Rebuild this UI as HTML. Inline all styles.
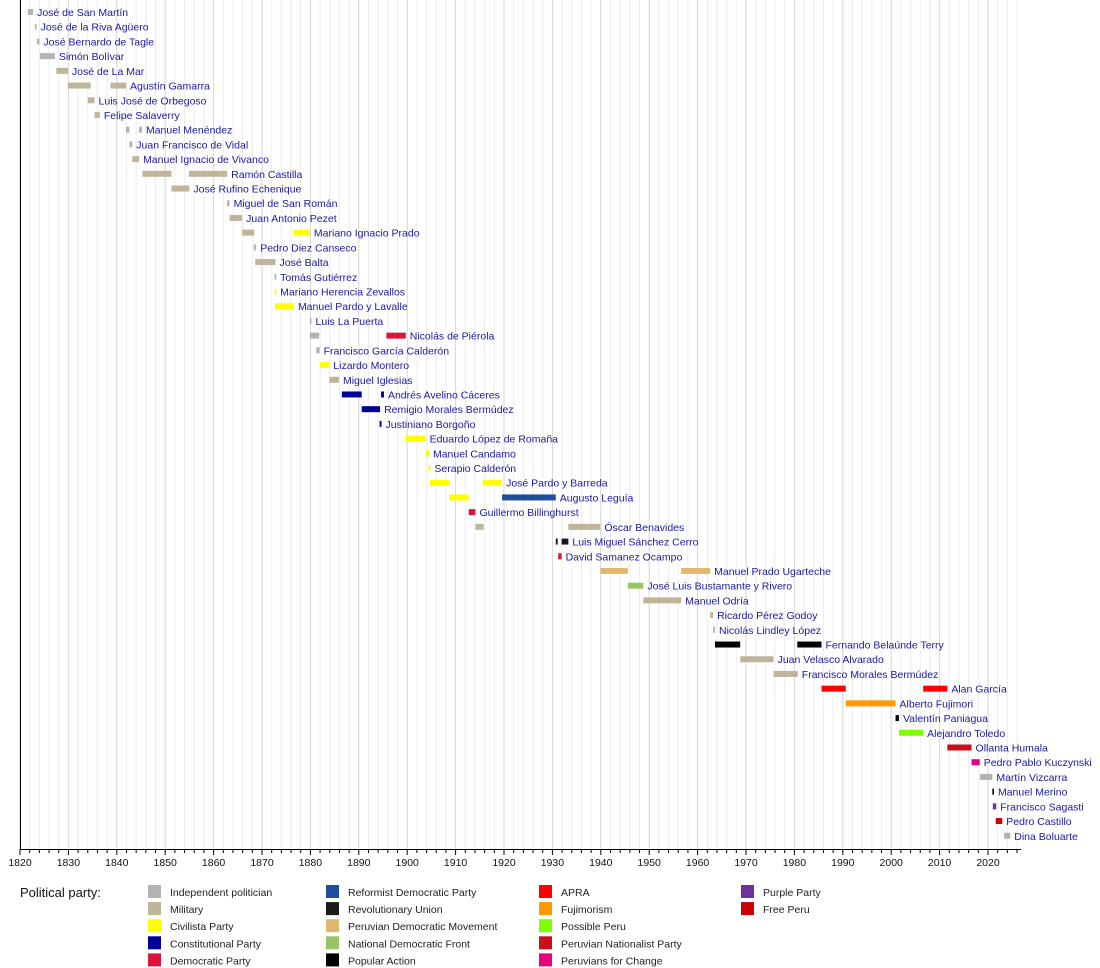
<!DOCTYPE html>
<html><head><meta charset="utf-8"><style>
body{margin:0;background:#fff;width:1100px;height:968px;overflow:hidden}
svg{display:block;font-family:"Liberation Sans",sans-serif}
</style></head><body>
<svg id="s" width="1100" height="968" xmlns="http://www.w3.org/2000/svg"></svg>
<script>
const C={ind:"#b3b3b3",mil:"#c0b49a",civ:"#ffff00",con:"#000099",dem:"#dc143c",ref:"#1f4e9c",rev:"#1a1a1a",pdm:"#e0b870",ndf:"#99c566",pa:"#000000",apra:"#ff0000",fuj:"#ff9900",pp:"#80ff00",pnp:"#cc0d1a",ppc:"#e5007e",pur:"#7030a0",fp:"#cc0000"};
const X=y=>20+(y-1820)*4.84;
const D=[
["José de San Martín",[[1821.6,1822.7,"ind"]]],
["José de la Riva Agüero",[[1823.1,1823.4,"ind"]]],
["José Bernardo de Tagle",[[1823.5,1824.0,"ind"]]],
["Simón Bolívar",[[1824.1,1827.2,"ind"]]],
["José de La Mar",[[1827.5,1829.9,"mil"]]],
["Agustín Gamarra",[[1829.9,1834.6,"mil"],[1838.7,1841.9,"mil"]]],
["Luis José de Orbegoso",[[1834.0,1835.4,"mil"]]],
["Felipe Salaverry",[[1835.4,1836.5,"mil"]]],
["Manuel Menéndez",[[1841.9,1842.6,"ind"],[1844.6,1845.2,"ind"]]],
["Juan Francisco de Vidal",[[1842.6,1843.2,"ind"]]],
["Manuel Ignacio de Vivanco",[[1843.2,1844.6,"mil"]]],
["Ramón Castilla",[[1845.3,1851.3,"mil"],[1854.9,1862.8,"mil"]]],
["José Rufino Echenique",[[1851.3,1855.0,"mil"]]],
["Miguel de San Román",[[1862.8,1863.3,"ind"]]],
["Juan Antonio Pezet",[[1863.3,1865.9,"mil"]]],
["Mariano Ignacio Prado",[[1865.9,1868.4,"mil"],[1876.6,1879.9,"civ"]]],
["Pedro Diez Canseco",[[1868.3,1868.8,"ind"]]],
["José Balta",[[1868.6,1872.8,"mil"]]],
["Tomás Gutiérrez",[[1872.6,1872.8,"ind"]]],
["Mariano Herencia Zevallos",[[1872.6,1872.8,"civ"]]],
["Manuel Pardo y Lavalle",[[1872.7,1876.6,"civ"]]],
["Luis La Puerta",[[1879.9,1880.1,"ind"]]],
["Nicolás de Piérola",[[1879.9,1881.8,"ind"],[1895.7,1899.7,"dem"]]],
["Francisco García Calderón",[[1881.2,1881.9,"ind"]]],
["Lizardo Montero",[[1881.9,1883.9,"civ"]]],
["Miguel Iglesias",[[1883.9,1885.9,"mil"]]],
["Andrés Avelino Cáceres",[[1886.5,1890.6,"con"],[1894.6,1895.2,"con"]]],
["Remigio Morales Bermúdez",[[1890.6,1894.4,"con"]]],
["Justiniano Borgoño",[[1894.3,1894.7,"con"]]],
["Eduardo López de Romaña",[[1899.7,1903.8,"civ"]]],
["Manuel Candamo",[[1903.8,1904.5,"civ"]]],
["Serapio Calderón",[[1904.4,1904.8,"civ"]]],
["José Pardo y Barreda",[[1904.7,1908.7,"civ"],[1915.6,1919.6,"civ"]]],
["Augusto Leguía",[[1908.7,1912.7,"civ"],[1919.6,1930.7,"ref"]]],
["Guillermo Billinghurst",[[1912.7,1914.1,"dem"]]],
["Óscar Benavides",[[1914.1,1915.8,"mil"],[1933.3,1939.9,"mil"]]],
["Luis Miguel Sánchez Cerro",[[1930.7,1931.1,"rev"],[1931.9,1933.3,"rev"]]],
["David Samanez Ocampo",[[1931.2,1931.9,"dem"]]],
["Manuel Prado Ugarteche",[[1939.9,1945.6,"pdm"],[1956.6,1962.6,"pdm"]]],
["José Luis Bustamante y Rivero",[[1945.6,1948.8,"ndf"]]],
["Manuel Odría",[[1948.8,1956.6,"mil"]]],
["Ricardo Pérez Godoy",[[1962.6,1963.2,"mil"]]],
["Nicolás Lindley López",[[1963.2,1963.6,"mil"]]],
["Fernando Belaúnde Terry",[[1963.6,1968.8,"pa"],[1980.6,1985.6,"pa"]]],
["Juan Velasco Alvarado",[[1968.8,1975.7,"mil"]]],
["Francisco Morales Bermúdez",[[1975.7,1980.7,"mil"]]],
["Alan García",[[1985.6,1990.6,"apra"],[2006.6,2011.6,"apra"]]],
["Alberto Fujimori",[[1990.6,2000.9,"fuj"]]],
["Valentín Paniagua",[[2000.9,2001.6,"pa"]]],
["Alejandro Toledo",[[2001.6,2006.6,"pp"]]],
["Ollanta Humala",[[2011.6,2016.6,"pnp"]]],
["Pedro Pablo Kuczynski",[[2016.6,2018.3,"ppc"]]],
["Martín Vizcarra",[[2018.3,2020.9,"ind"]]],
["Manuel Merino",[[2020.9,2021.0,"pa"]]],
["Francisco Sagasti",[[2021.0,2021.7,"pur"]]],
["Pedro Castillo",[[2021.6,2022.95,"fp"]]],
["Dina Boluarte",[[2023.3,2024.6,"ind"]]]];
let h="";
for(let y=1820;y<=2026;y+=2){const x=X(y);h+=`<line x1="${x}" y1="0" x2="${x}" y2="849" stroke="${y%10==0?'#d6d6d6':'#ececec'}" stroke-width="1"/>`;}
D.forEach((d,i)=>{const cy=12+i*14.71;let e=0;d[1].forEach(b=>{let x1=X(b[0]),w=Math.max(1.6,X(b[1])-x1);h+=`<rect x="${x1}" y="${cy-3}" width="${w}" height="6" fill="${C[b[2]]}"/>`;e=x1+w;});h+=`<text x="${e+4}" y="${cy+4}" font-size="10.5" fill="#1a1aa0">${d[0]}</text>`;});
h+=`<line x1="20.5" y1="0" x2="20.5" y2="849" stroke="#000"/><line x1="20" y1="849.5" x2="1021" y2="849.5" stroke="#000"/>`;
for(let y=1820;y<=2026;y+=2){const x=X(y);h+=`<line x1="${x}" y1="849" x2="${x}" y2="${y%10==0?855:853}" stroke="#000"/>`;if(y%10==0)h+=`<text x="${x}" y="866" font-size="10.5" text-anchor="middle" fill="#111">${y}</text>`;}
h+=`<text x="20" y="897" font-size="13" fill="#111">Political party:</text>`;
const L=[[148,[["ind","Independent politician"],["mil","Military"],["civ","Civilista Party"],["con","Constitutional Party"],["dem","Democratic Party"]]],
[326,[["ref","Reformist Democratic Party"],["rev","Revolutionary Union"],["pdm","Peruvian Democratic Movement"],["ndf","National Democratic Front"],["pa","Popular Action"]]],
[539,[["apra","APRA"],["fuj","Fujimorism"],["pp","Possible Peru"],["pnp","Peruvian Nationalist Party"],["ppc","Peruvians for Change"]]],
[741,[["pur","Purple Party"],["fp","Free Peru"]]]];
L.forEach(c=>c[1].forEach((it,j)=>{const y=885+j*17.1;h+=`<rect x="${c[0]}" y="${y}" width="13" height="13" fill="${C[it[0]]}"/><text x="${c[0]+22}" y="${y+11}" font-size="10.5" fill="#222">${it[1]}</text>`;}));
document.getElementById("s").innerHTML=h;
</script>
</body></html>
